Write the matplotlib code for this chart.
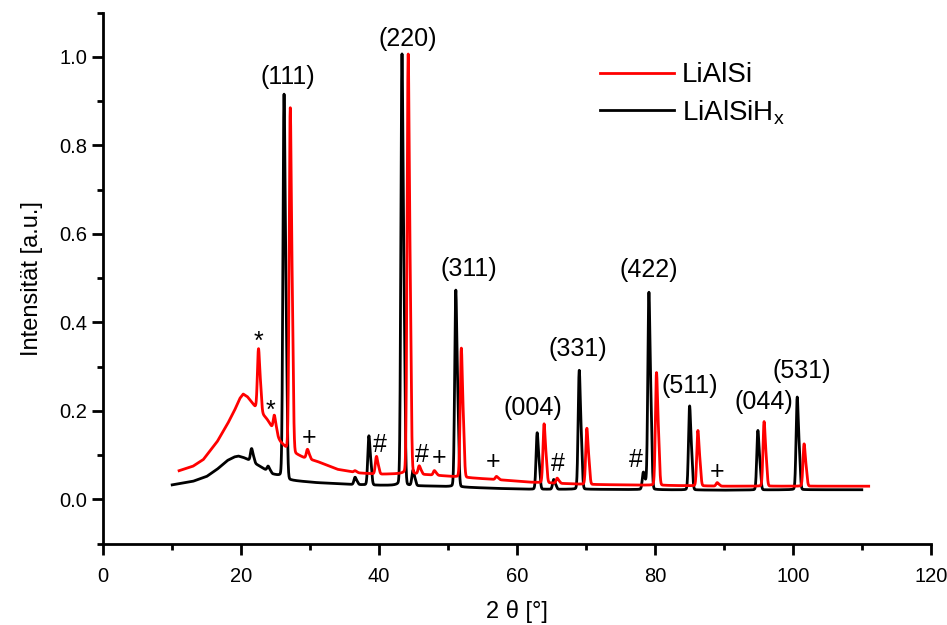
import matplotlib.pyplot as plt
import numpy as np

plt.rcParams['font.family'] = ['Liberation Sans', 'DejaVu Sans']

# background knots (2theta, intensity)
bg_red_x = [11, 13, 14.5, 16.5, 18, 19, 19.8, 20.3, 20.9, 21.5, 22, 23, 23.8, 24.6, 25.7, 26.5, 27.5, 29, 31, 34, 37, 40, 44, 48, 52, 57, 62, 70, 80, 90, 100, 111]
bg_red_y = [0.065, 0.075, 0.09, 0.13, 0.17, 0.2, 0.228, 0.238, 0.232, 0.22, 0.21, 0.195, 0.18, 0.16, 0.13, 0.115, 0.105, 0.095, 0.086, 0.068, 0.06, 0.057, 0.058, 0.055, 0.05, 0.045, 0.039, 0.034, 0.032, 0.03, 0.03, 0.03]
bg_blk_x = [10, 13, 15, 16.5, 18, 19, 19.6, 20.3, 21.3, 22.7, 24.6, 25.6, 27.1, 31, 36, 40, 48, 57, 62, 70, 80, 90, 100, 110]
bg_blk_y = [0.033, 0.041, 0.052, 0.068, 0.088, 0.096, 0.098, 0.095, 0.088, 0.075, 0.057, 0.052, 0.043, 0.038, 0.034, 0.032, 0.03, 0.025, 0.023, 0.023, 0.022, 0.021, 0.022, 0.022]

# peaks: position, top intensity
pk_red_x = [22.5, 24.8, 27.1, 29.6, 36.5, 39.6, 44.2, 45.8, 48.0, 51.9, 57.0, 63.9, 65.8, 70.1, 80.2, 86.2, 89.0, 95.8, 101.6]
pk_red_y = [0.34, 0.19, 0.88, 0.113, 0.065, 0.097, 1.0, 0.075, 0.065, 0.34, 0.052, 0.17, 0.048, 0.16, 0.285, 0.155, 0.038, 0.175, 0.125]
pk_blk_x = [21.5, 23.9, 26.2, 36.5, 38.5, 43.3, 44.9, 51.1, 62.9, 65.3, 69.0, 78.3, 79.1, 85.0, 94.9, 100.6]
pk_blk_y = [0.115, 0.075, 0.91, 0.05, 0.143, 1.0, 0.065, 0.47, 0.15, 0.045, 0.29, 0.06, 0.465, 0.21, 0.155, 0.23]

hkl_labels = ['(111)', '(220)', '(311)', '(004)', '(331)', '(422)', '(511)', '(044)', '(531)']
hkl_x = [26.7, 44.2, 53.0, 62.3, 68.8, 79.1, 85.1, 95.8, 101.3]
hkl_y = [0.955, 1.04, 0.52, 0.207, 0.34, 0.518, 0.257, 0.22, 0.29]

sym_labels = ['*', '*', '+', '#', '#', '+', '+', '#', '#', '+']
sym_x = [22.5, 24.2, 29.9, 40.1, 46.2, 48.7, 56.5, 65.9, 77.2, 89.0]
sym_y = [0.355, 0.2, 0.139, 0.123, 0.1, 0.093, 0.084, 0.08, 0.089, 0.061]


def pattern(x, bx, by, px, py, w=0.15):
    y = np.interp(x, bx, by)
    norm = 1 + 0.4 * np.exp(-0.5 * (0.3 / w) ** 2) + 0.02
    for p, h in zip(px, py):
        amp = (h - np.interp(p, bx, by)) / norm
        # K-alpha1 plus a weaker K-alpha2 shoulder
        y += amp * np.exp(-0.5 * ((x - p) / w) ** 2)
        y += 0.4 * amp * np.exp(-0.5 * ((x - p - 0.3) / w) ** 2)
        y += 0.02 * amp / (1 + ((x - p) / 0.4) ** 2)
    return y


xr = np.arange(11, 111, 0.02)
xb = np.arange(10, 110, 0.02)
yr = pattern(xr, bg_red_x, bg_red_y, pk_red_x, pk_red_y)
yb = pattern(xb, bg_blk_x, bg_blk_y, pk_blk_x, pk_blk_y)

fig = plt.figure(figsize=(9.47, 6.25), dpi=100)
ax = fig.add_axes([0.109, 0.13, 0.874, 0.85])

ax.plot(xb, yb, color='black', lw=2, label='LiAlSiH$_\\mathregular{x}$')
ax.plot(xr, yr, color='red', lw=2, label='LiAlSi')

for t, x, y in zip(hkl_labels, hkl_x, hkl_y):
    ax.text(x, y, t, ha='center', va='center', fontsize=18)
for t, x, y in zip(sym_labels, sym_x, sym_y):
    ax.text(x, y, t, ha='center', va='center', fontsize=18)

ax.set_xlim(0, 120)
ax.set_ylim(-0.1, 1.1)
ax.set_xticks(np.arange(0, 121, 20))
ax.set_xticks(np.arange(10, 120, 20), minor=True)
ax.set_yticks(np.arange(0, 1.01, 0.2))
ax.set_yticks(np.arange(-0.1, 1.11, 0.2), minor=True)
ax.yaxis.set_major_formatter(plt.FormatStrFormatter('%.1f'))
ax.spines['top'].set_visible(False)
ax.spines['right'].set_visible(False)
for s in ['left', 'bottom']:
    ax.spines[s].set_linewidth(2)
ax.tick_params(which='major', direction='out', length=8, width=2, labelsize=14.5)
ax.tick_params(which='minor', direction='out', length=4.5, width=2)
ax.tick_params(axis='x', pad=9)
ax.set_xlabel('2 θ [°]', fontsize=17, labelpad=10)
ax.set_ylabel('Intensität [a.u.]', fontsize=17, labelpad=12)

h, l = ax.get_legend_handles_labels()
ax.legend(h[::-1], l[::-1], loc='upper left', bbox_to_anchor=(0.57, 0.953), frameon=False,
          fontsize=20, handlelength=2.66, handletextpad=0.3, labelspacing=0.35)

fig.savefig('out.png', dpi=100)
